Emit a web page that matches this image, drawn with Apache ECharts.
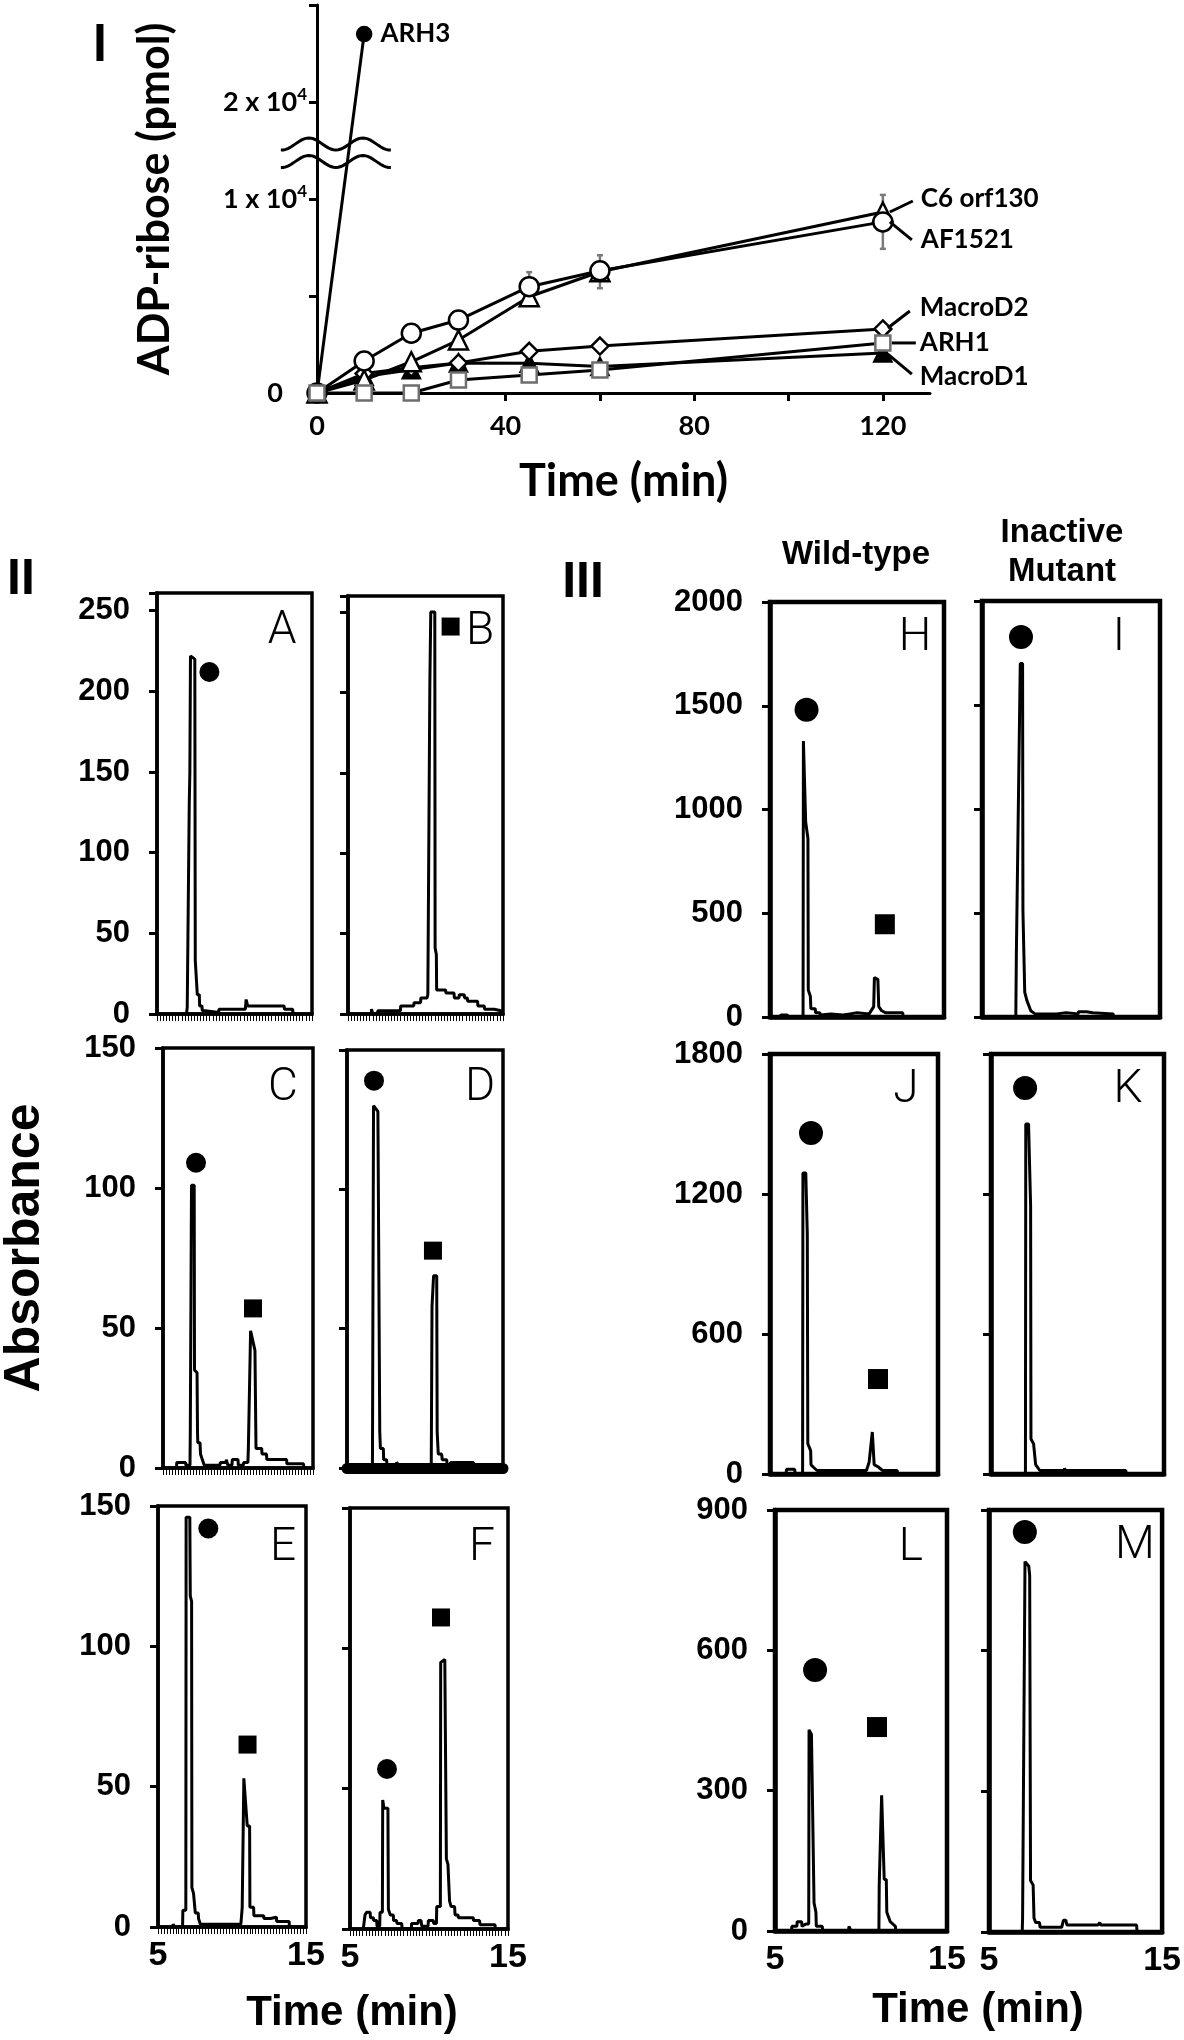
<!DOCTYPE html>
<html>
<head>
<meta charset="utf-8">
<script src="https://cdn.jsdelivr.net/npm/echarts@6/dist/echarts.min.js"></script>
<style>
html,body{margin:0;padding:0;background:#fff}
#chart{width:1184px;height:2040px}
</style>
</head>
<body>
<div id="chart"></div>
<script>
// ---------- Panel I : ADP-ribose (pmol) vs time (min) ----------
var timeMin     = [0, 10, 20, 30, 45, 60, 120];
var af1521      = [0, 1650, 3080, 3760, 5480, 6300, 8820];
var af1521Err   = [0, 0, 0, 0, 750, 0, 1390];
var c6orf130    = [0, 670, 1610, 2730, 4960, 6250, 9330];
var c6orf130Err = [0, 0, 0, 0, 400, 850, 0];
var macroD2     = [0, 1000, 1300, 1550, 2150, 2420, 3300];
var arh1        = [0, 0, 0, 670, 930, 1190, 2580];
var macroD1     = [0, 850, 1200, 1540, 1530, 1360, 2060];
var arh3Time    = [0, 10];
var arh3        = [0, 23500];
var xTicksI     = [0, 20, 40, 60, 80, 100, 120];
var xLabelsI    = [0, 40, 80, 120];
var yLabelsI    = {0: '{z|0}', 10000: '1 x 10{s|4}', 15000: '2 x 10{s|4}'};

// ---------- Panels II / III : HPLC traces [time (min), absorbance] ----------
var traceA = [[6.9,0],[6.95,4],[7.05,5],[7.08,130],[7.12,150],[7.16,222],[7.44,220],[7.47,33],[7.58,33],[7.6,12],[7.73,12],[7.75,5],[7.9,5],[7.92,2],[8.12,2],[8.15,1],[8.98,1],[9.0,3],[10.7,3],[10.75,9],[10.82,8],[10.85,5],[13.2,5],[13.22,3],[13.75,3],[13.78,0]];
var traceB = [[6.5,0],[6.52,3],[6.6,0],[6.9,0],[6.92,2],[8.38,2],[8.4,5],[9.24,5],[9.26,7],[9.68,7],[9.7,10],[10.1,10],[10.15,12],[10.28,205],[10.34,250],[10.6,250],[10.62,41],[10.7,37],[10.72,15],[11.3,15],[11.32,13],[11.84,13],[11.86,10],[12.16,10],[12.18,12],[12.5,12],[12.52,10],[12.7,10],[12.72,8],[13.36,8],[13.38,5],[13.79,5],[13.81,3],[14.44,3],[14.46,2],[14.87,2],[14.9,0]];
var traceC = [[5.9,0],[5.92,2],[6.5,2],[6.52,1],[6.8,1],[6.82,13],[6.9,101],[7.08,101],[7.1,35],[7.27,34],[7.3,13],[7.32,9],[7.47,9],[7.5,5],[7.6,5],[7.62,3],[7.73,3],[7.75,1],[8.8,1],[8.82,2],[9.2,2],[9.22,3],[9.3,3],[9.32,1],[9.6,1],[9.62,3],[10.0,3],[10.02,1],[10.36,1],[10.38,2],[10.66,2],[10.69,7],[10.84,49],[11.13,42],[11.2,7],[11.58,7],[11.6,5],[11.9,5],[11.92,3],[13.24,3],[13.26,1.5],[14.36,1.5],[14.4,0]];
var traceD = [[6.63,0],[6.7,130],[6.98,128],[7.0,110],[7.1,13],[7.14,7],[7.33,7],[7.35,3],[7.54,3],[7.56,1],[8.15,1],[8.18,2],[8.3,2],[8.32,1],[10.4,1],[10.45,58],[10.55,69],[10.75,69],[10.78,13],[10.85,5],[11.07,5],[11.1,3],[11.39,3],[11.42,1],[11.6,1],[11.65,2],[13.1,2],[13.12,0]];
var traceE = [[6.0,0],[6.02,1],[6.1,1],[6.12,0],[6.66,0],[6.68,6],[6.88,6],[6.9,146],[7.15,146],[7.18,118],[7.27,116],[7.29,14],[7.38,14],[7.4,12],[7.5,12],[7.52,5],[7.72,5],[7.74,3],[7.84,3],[7.86,1],[10.6,1],[10.69,7],[10.8,53],[11.03,36],[11.19,36],[11.21,7],[11.46,7],[11.48,4],[12.14,4],[12.16,3],[12.6,3],[12.62,3.5],[13.0,3.5],[13.02,2],[13.86,2],[13.88,0]];
var traceF = [[5.84,0],[5.95,5],[6.05,6],[6.27,6],[6.3,4],[6.48,4],[6.5,3],[6.69,3],[6.71,1],[6.88,1],[6.9,6],[7.05,6],[7.07,46],[7.15,43],[7.4,43],[7.43,7],[7.53,7],[7.55,5],[7.74,5],[7.76,3],[7.95,3],[7.97,2],[8.27,2],[8.3,0],[8.88,0],[8.9,2],[9.3,2],[9.33,3],[9.5,3],[9.54,1],[9.94,1],[9.96,3],[10.27,3],[10.3,2],[10.47,2],[10.49,8],[10.72,8],[10.74,95],[11.0,96],[11.1,25],[11.2,23],[11.3,10],[11.4,8],[11.62,8],[11.65,5],[11.84,5],[11.86,4],[12.8,4],[12.82,3],[13.2,3],[13.23,1.5],[14.18,1.5],[14.2,0]];
var traceH = [[5.6,0],[5.62,10],[6.0,10],[6.02,0],[6.9,0],[6.92,1330],[7.0,1330],[7.05,940],[7.18,860],[7.2,130],[7.32,100],[7.35,40],[7.6,40],[7.62,20],[7.86,20],[7.9,10],[8.5,15],[9.2,10],[9.6,15],[10.0,20],[10.7,15],[10.96,50],[11.0,190],[11.2,180],[11.25,50],[11.42,30],[11.66,20],[12.63,20],[12.65,0]];
var traceI = [[6.9,0],[6.93,300],[7.15,1700],[7.28,1700],[7.3,510],[7.4,120],[7.52,80],[7.74,30],[7.98,15],[9.2,15],[9.26,20],[9.72,20],[9.75,15],[10.4,15],[10.42,25],[10.88,25],[10.9,20],[11.22,20],[11.25,15],[12.37,15],[12.4,0]];
var traceJ = [[5.96,0],[5.98,20],[6.47,20],[6.5,0],[6.94,0],[6.96,1290],[7.13,1290],[7.22,1030],[7.25,130],[7.42,100],[7.44,40],[7.57,30],[7.8,15],[9.1,15],[9.16,20],[9.3,15],[10.74,15],[10.9,50],[11.0,50],[11.09,180],[11.11,180],[11.2,40],[11.45,30],[11.7,15],[12.57,15],[12.6,0]];
var traceK = [[6.99,0],[7.01,1500],[7.17,1500],[7.29,1150],[7.31,150],[7.46,130],[7.58,40],[7.82,15],[9.23,15],[9.25,25],[9.3,15],[11.25,15],[11.35,20],[11.4,15],[12.79,15],[12.82,0]];
var traceL = [[5.96,0],[5.98,10],[6.27,10],[6.29,20],[6.55,20],[6.57,10],[6.8,15],[6.96,15],[6.98,430],[7.12,420],[7.27,60],[7.38,40],[7.4,10],[7.75,10],[7.77,0],[9.28,0],[9.3,10],[9.4,10],[9.42,0],[11.04,0],[11.06,100],[11.1,100],[11.2,290],[11.3,290],[11.35,110],[11.47,110],[11.5,40],[11.7,20],[12.0,10],[12.02,0]];
var traceM = [[6.92,0],[6.94,30],[7.08,790],[7.3,780],[7.35,760],[7.4,110],[7.55,100],[7.6,30],[7.7,20],[7.92,20],[7.95,10],[9.2,10],[9.3,25],[9.44,25],[9.5,15],[11.3,15],[11.4,20],[11.45,15],[13.53,15],[13.55,0]];

// peak annotations: ● substrate, ■ ADP-ribose  [time, absorbance]
var peakCircle = {A:[8.38,212], C:[7.2,109], D:[6.73,139], E:[8.4,142], F:[7.34,57],
                  H:[7.1,1481], I:[7.19,1827], J:[7.44,1461], K:[6.97,1654], L:[7.33,558], M:[7.07,853]};
var peakSquare = {B:[11.62,241], C:[11.0,57], D:[10.51,78], E:[11.05,65], F:[10.76,111],
                  H:[11.6,447], J:[11.43,407], L:[10.93,436]};
var xLabelsChrom = [5, 15];

var panels = [
  {id:'A', trace:traceA, ymax:261,  step:50},
  {id:'B', trace:traceB, ymax:260,  step:50},
  {id:'C', trace:traceC, ymax:150,  step:50},
  {id:'D', trace:traceD, ymax:150,  step:50},
  {id:'E', trace:traceE, ymax:150,  step:50},
  {id:'F', trace:traceF, ymax:150,  step:50},
  {id:'H', trace:traceH, ymax:2000, step:500},
  {id:'I', trace:traceI, ymax:2000, step:500},
  {id:'J', trace:traceJ, ymax:1800, step:600},
  {id:'K', trace:traceK, ymax:1800, step:600},
  {id:'L', trace:traceL, ymax:900,  step:300},
  {id:'M', trace:traceM, ymax:900,  step:300}
];

// box geometry (px) and letter position
var layout = {
  A:{left:157, top:593, width:155, height:421, yl:true,  xl:false, g:2, letter:[282,631]},
  B:{left:348, top:596, width:155, height:418, yl:false, xl:false, g:2, letter:[480,632]},
  C:{left:163, top:1048,width:150, height:420, yl:true,  xl:false, g:2, letter:[283,1088]},
  D:{left:347, top:1050,width:156, height:418, yl:false, xl:false, g:2, letter:[480,1088], band:true},
  E:{left:158, top:1506,width:148, height:421, yl:true,  xl:true,  g:2, letter:[283,1548]},
  F:{left:350, top:1508,width:158, height:421, yl:false, xl:true,  g:2, letter:[482,1548]},
  H:{left:770, top:602, width:174, height:415, yl:true,  xl:false, g:3, letter:[915,638]},
  I:{left:982, top:601, width:178, height:416, yl:false, xl:false, g:3, letter:[1119,638]},
  J:{left:770, top:1054,width:168, height:420, yl:true,  xl:false, g:3, letter:[906,1090]},
  K:{left:991, top:1054,width:173, height:420, yl:false, xl:false, g:3, letter:[1128,1090]},
  L:{left:775, top:1510,width:172, height:421, yl:true,  xl:true,  g:3, letter:[911,1548]},
  M:{left:989, top:1510,width:174, height:422, yl:false, xl:true,  g:3, letter:[1135,1546]}
};

var FONT_I = 'Lato, "Open Sans", sans-serif';
var FONT_H = '"Liberation Sans", Arial, sans-serif';

// broken y axis of panel I: values above the break are shifted down
function brk(v) {
  if (v <= 12500) return v;
  if (v >= 20000) return 15000 + (v - 20000);
  return 12500 + (v - 12500) / 3;
}
function pairs(xs, ys) {
  return xs.map(function (x, i) { return [x, brk(ys[i])]; });
}
function errData(ys, es) {
  var out = [];
  es.forEach(function (e, i) { if (e > 0) out.push([timeMin[i], ys[i] - e, ys[i] + e]); });
  return out;
}

var chart = echarts.init(document.getElementById('chart'));
var grids = [], xAxes = [], yAxes = [], series = [];

// ----- panel I -----
grids.push({left:317, top:5, width:613, height:388});
xAxes.push({
  gridIndex:0, type:'value', min:0, max:130, interval:20,
  name:'Time (min)', nameLocation:'middle', nameGap:66,
  nameTextStyle:{fontFamily:FONT_I, fontWeight:'bold', fontSize:45, color:'#000'},
  axisLine:{lineStyle:{color:'#000', width:3}},
  axisTick:{length:8, lineStyle:{width:3, color:'#000'}, customValues:xTicksI},
  axisLabel:{margin:20, fontFamily:FONT_I, fontWeight:'bold', fontSize:27, color:'#000', customValues:xLabelsI,
    formatter:function (v) { return v % 40 === 0 && v <= 120 ? String(v) : ''; }},
  splitLine:{show:false}
});
yAxes.push({
  gridIndex:0, type:'value', min:0, max:20000, interval:5000,
  name:'ADP-ribose (pmol)', nameLocation:'middle', nameGap:140, nameRotate:90,
  nameTextStyle:{fontFamily:FONT_I, fontWeight:'bold', fontSize:43, color:'#000'},
  axisLine:{show:true, lineStyle:{color:'#000', width:3}},
  axisTick:{show:true, length:8, lineStyle:{width:3, color:'#000'}},
  axisLabel:{margin:10, fontFamily:FONT_I, fontWeight:'bold', fontSize:27, color:'#000',
    formatter:function (v) { return yLabelsI[v] || ''; },
    rich:{
      s:{fontFamily:FONT_I, fontWeight:'bold', fontSize:17, verticalAlign:'top', lineHeight:32, color:'#000'},
      z:{fontFamily:FONT_I, fontWeight:'bold', fontSize:27, padding:[0,24,0,0], color:'#000'}
    }},
  splitLine:{show:false}
});

function errRender(params, api) {
  var x = api.value(0);
  var p1 = api.coord([x, api.value(1)]), p2 = api.coord([x, api.value(2)]);
  var st = {stroke:'#7a7a7a', lineWidth:2.5};
  return {type:'group', children:[
    {type:'line', shape:{x1:p1[0], y1:p1[1], x2:p2[0], y2:p2[1]}, style:st},
    {type:'line', shape:{x1:p1[0]-3, y1:p1[1], x2:p1[0]+3, y2:p1[1]}, style:st},
    {type:'line', shape:{x1:p2[0]-3, y1:p2[1], x2:p2[0]+3, y2:p2[1]}, style:st}
  ]};
}
series.push({type:'custom', xAxisIndex:0, yAxisIndex:0, renderItem:errRender, z:1,
  data:errData(af1521, af1521Err).concat(errData(c6orf130, c6orf130Err))});

function curve(name, xs, ys, symbol, size, fill, border) {
  return {name:name, type:'line', xAxisIndex:0, yAxisIndex:0, data:pairs(xs, ys), clip:false,
    symbol:symbol, symbolSize:size, showSymbol:true, z:3,
    lineStyle:{color:'#000', width:3},
    itemStyle:{color:fill, borderColor:border || '#000', borderWidth:2.5, opacity:1}};
}
series.push(curve('MacroD1', timeMin, macroD1, 'triangle', 17, '#000'));
series.push(curve('MacroD2', timeMin, macroD2, 'diamond', 17, '#fff'));
series.push(curve('C6 orf130', timeMin, c6orf130, 'triangle', 19, '#fff'));
series.push(curve('AF1521', timeMin, af1521, 'circle', 19, '#fff'));
series.push(curve('ARH1', timeMin, arh1, 'rect', 15, '#fff', '#6e6e6e'));
var arh3Series = curve('ARH3', arh3Time, arh3, 'none', 13, '#000');
arh3Series.data = arh3Series.data.map(function (d, i) {
  return i === 0 ? d : {value:d, symbol:'circle', symbolSize:14,
    label:{show:true, position:'right', distance:8, formatter:'ARH3',
      fontFamily:FONT_I, fontWeight:'bold', fontSize:26, color:'#000'}};
});
series.push(arh3Series);

// axis-break marks (two wavy strokes)
series.push({type:'custom', xAxisIndex:0, yAxisIndex:0, clip:false, z:4, silent:true,
  data:[[4, 12836], [4, 11934]],
  renderItem:function (params, api) {
    var c = api.coord([api.value(0), api.value(1)]);
    var pts = [];
    for (var k = 0; k <= 44; k++) {
      var dx = -55 + 110 * k / 44;
      pts.push([c[0] + dx, c[1] + 6 * Math.cos(2 * Math.PI * dx / 54)]);
    }
    return {type:'polyline', shape:{points:pts}, style:{stroke:'#000', lineWidth:3, fill:null}};
  }});

// ----- chromatogram panels -----
function isLabelTick(v) {
  return xLabelsChrom.some(function (t) { return Math.abs(v - t) < 1e-6; });
}
panels.forEach(function (p, k) {
  var L = layout[p.id];
  var gi = k + 1;
  var big = L.g === 3;
  grids.push({left:L.left, top:L.top, width:L.width, height:L.height,
    show:true, borderColor:'#000', borderWidth:big ? 4.5 : 3.5});
  xAxes.push({
    gridIndex:gi, type:'value', min:5, max:15, interval:big ? 10 : 0.2,
    // panel D: the dense ticks merge into a solid band under the box
    offset:L.band ? 5 : 0,
    axisLine:{lineStyle:{color:'#000', width:L.band ? 11 : (big ? 4.5 : 3.5)}},
    axisTick:{show:!big && !L.band, length:7, lineStyle:{width:1, color:'#000'}},
    axisLabel:{show:L.xl, margin:12, fontFamily:FONT_H, fontWeight:'bold', fontSize:34, color:'#000',
      formatter:function (v) { return isLabelTick(v) ? String(Math.round(v)) : ''; }},
    splitLine:{show:false}
  });
  yAxes.push({
    gridIndex:gi, type:'value', min:0, max:p.ymax, interval:p.step,
    axisLine:{show:true, lineStyle:{color:'#000', width:big ? 4.5 : 3.5}},
    axisTick:{show:true, length:8, lineStyle:{width:3, color:'#000'}},
    axisLabel:{show:L.yl, margin:27, fontFamily:FONT_H, fontWeight:'bold', fontSize:31, color:'#000',
      formatter:function (v) { return v % p.step === 0 ? String(v) : ''; }},
    splitLine:{show:false}
  });
  series.push({type:'line', xAxisIndex:gi, yAxisIndex:gi, data:p.trace, showSymbol:false,
    lineStyle:{color:'#000', width:3}, z:3, silent:true});
  if (peakCircle[p.id]) {
    series.push({type:'scatter', xAxisIndex:gi, yAxisIndex:gi, data:[peakCircle[p.id]],
      symbol:'circle', symbolSize:big ? 24 : 20, itemStyle:{color:'#000', opacity:1}, z:4, silent:true});
  }
  if (peakSquare[p.id]) {
    series.push({type:'scatter', xAxisIndex:gi, yAxisIndex:gi, data:[peakSquare[p.id]],
      symbol:'rect', symbolSize:big ? 20 : 18, itemStyle:{color:'#000', opacity:1}, z:4, silent:true});
  }
});

chart.setOption({
  animation:false,
  backgroundColor:'#fff',
  grid:grids, xAxis:xAxes, yAxis:yAxes, series:series
});

// ----- text annotations -----
function txt(text, x, y, font, align, rot) {
  return {type:'text', x:x, y:y, rotation:rot || 0, z:10, silent:true,
    style:{text:text, x:0, y:0, font:font, fill:'#000',
      align:align || 'center', verticalAlign:'middle',
      textAlign:align || 'center', textVerticalAlign:'middle'}};
}
var gfx = [];
gfx.push(txt('I', 100, 44, 'bold 52px ' + FONT_I));
gfx.push(txt('II', 21, 580, 'bold 50px ' + FONT_H));
gfx.push(txt('III', 583, 583, 'bold 50px ' + FONT_H));
gfx.push(txt('Wild-type', 856, 555, 'bold 33px ' + FONT_H));
gfx.push(txt('Inactive', 1062, 533, 'bold 33px ' + FONT_H));
gfx.push(txt('Mutant', 1062, 572, 'bold 33px ' + FONT_H));
gfx.push(txt('Absorbance', 25, 1248, 'bold 50px ' + FONT_H, 'center', Math.PI / 2));
gfx.push(txt('Time (min)', 352, 2013, 'bold 42px ' + FONT_H));
gfx.push(txt('Time (min)', 978, 2010, 'bold 42px ' + FONT_H));
panels.forEach(function (p) {
  var pos = layout[p.id].letter;
  gfx.push(txt(p.id, pos[0], pos[1], '300 46px Roboto, "Liberation Sans", sans-serif'));
});

// curve labels with leader lines at the 120 min points
var endLabels = [
  {text:'C6 orf130', y:c6orf130[6], l:[7,0,30,-11], t:[38,-13]},
  {text:'AF1521',    y:af1521[6],   l:[7,0,29,18],   t:[38,18]},
  {text:'MacroD2',   y:macroD2[6],  l:[5,-1,27,-18], t:[37,-21]},
  {text:'ARH1',      y:arh1[6],     l:[9,0,33,0],    t:[37,0]},
  {text:'MacroD1',   y:macroD1[6],  l:[5,1,29,21],   t:[37,24]}
];
endLabels.forEach(function (e) {
  var c = chart.convertToPixel({gridIndex:0}, [120, brk(e.y)]);
  gfx.push({type:'line', z:10, silent:true,
    shape:{x1:c[0]+e.l[0], y1:c[1]+e.l[1], x2:c[0]+e.l[2], y2:c[1]+e.l[3]},
    style:{stroke:'#000', lineWidth:3}});
  gfx.push(txt(e.text, c[0]+e.t[0], c[1]+e.t[1], 'bold 26px ' + FONT_I, 'left'));
});

chart.setOption({graphic:gfx});
</script>
</body>
</html>
